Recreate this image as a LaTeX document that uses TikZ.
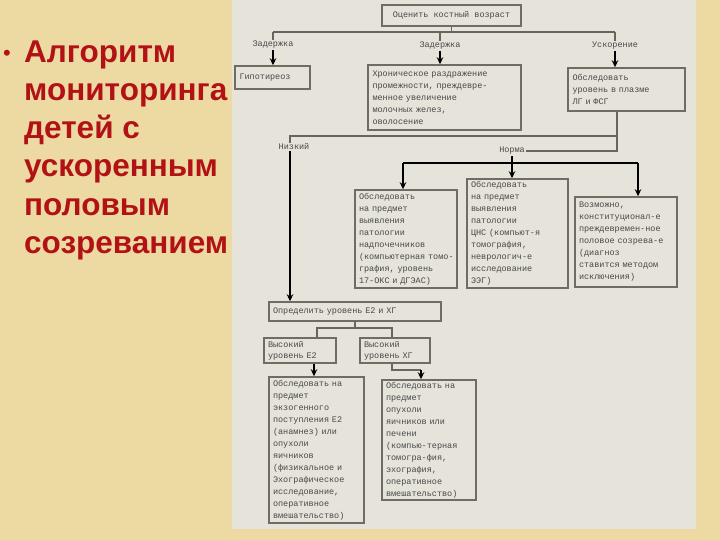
\documentclass[tikz,border=0pt]{standalone}
\usepackage{fontspec}
\usepackage{tikz}
\usetikzlibrary{arrows.meta}
\newfontfamily\titlefont{Liberation Sans}
\newfontfamily\flowmono{Liberation Mono}
\newcommand\boxfont{\flowmono\fontsize{8.5}{12}\selectfont}

\definecolor{papyrus}{RGB}{236,218,162}
\definecolor{panelgray}{RGB}{230,227,219}
\definecolor{boxgray}{RGB}{112,108,100}
\definecolor{linegray}{RGB}{105,100,92}
\definecolor{textgray}{RGB}{72,72,72}
\definecolor{titlered}{RGB}{178,18,22}

\tikzset{
  box/.style={draw=boxgray, line width=1.5pt, fill=panelgray, inner xsep=3pt, inner ysep=2pt,
    align=left, font=\boxfont, text=textgray},
  lbl/.style={font=\boxfont, text=textgray, inner sep=1pt},
  wire/.style={draw=linegray, line width=1.5pt},
  arr/.style={->, draw=black, line width=1.6pt},
  ttl/.style={anchor=base west, inner sep=0pt, text=titlered, font=\titlefont\bfseries\fontsize{31.5}{36}\selectfont}
}

\begin{document}
\begin{tikzpicture}[x=1pt, y=-1pt, >={Stealth[length=7pt,width=6.5pt]}]
  \useasboundingbox (0,0) rectangle (720,540);
  \fill[papyrus] (0,0) rectangle (720,540);
  \fill[panelgray] (232,0) rectangle (696,529);

  % title on the left
  \node[ttl, anchor=base, font=\titlefont\fontsize{22}{22}\selectfont] (dot) at (7,61) {•};
  \node[ttl] (t1) at (24,63) {Алгоритм};
  \node[ttl] (t2) at (24,101) {мониторинга};
  \node[ttl] (t3) at (24,139) {детей с};
  \node[ttl] (t4) at (24,177) {ускоренным};
  \node[ttl] (t5) at (24,215) {половым};
  \node[ttl] (t6) at (24,253) {созреванием};

  % first level
  \node[box, minimum width=139, minimum height=21] (age) at (451.5,15.5) {Оценить костный возраст};

  \node[lbl] (delay1) at (273,45) {Задержка};
  \node[lbl] (delay2) at (440,46) {Задержка};
  \node[lbl] (accel) at (615,46) {Ускорение};

  \node[box, minimum width=75, minimum height=23, text width=66pt] (hypo) at (272.5,77.5) {Гипотиреоз};
  \node[box, minimum width=153, minimum height=65, text width=144pt] (chronic) at (444.5,97.5)
    {Хроническое раздражение\\промежности, преждевре-\\менное увеличение\\молочных желез,\\оволосение};
  \node[box, minimum width=117, minimum height=43, text width=108pt] (lhfsh) at (626.5,89.5)
    {Обследовать\\уровень в плазме\\ЛГ и ФСГ};

  \coordinate (jl) at (273,32);
  \coordinate (jm) at (440,32);
  \coordinate (jr) at (615,32);
  \draw[wire] (age.south) -- (age.south |- jl);
  \draw[wire] (jl) -- (jr);
  \draw[wire] (jl) -- (delay1.north);
  \draw[wire] (jm) -- (delay2.north);
  \draw[wire] (jr) -- (accel.north);
  \draw[arr] (delay1.south) -- (delay1.south |- hypo.north);
  \draw[arr] (delay2.south) -- (delay2.south |- chronic.north);
  \draw[arr] (accel.south) -- (accel.south |- lhfsh.north);

  % second level
  \node[lbl] (low) at (294,147) {Низкий};
  \node[lbl] (norm) at (512,151) {Норма};

  \node[box, minimum width=102, minimum height=98, text width=94pt] (adrenal) at (406,239)
    {Обследовать\\на предмет\\выявления\\патологии\\надпочечников\\\mbox{(компьютерная томо-}\\графия, уровень\\17-ОКС и ДГЭАС)};
  \node[box, minimum width=101, minimum height=109, text width=93pt] (cns) at (517.5,233.5)
    {Обследовать\\на предмет\\выявления\\патологии\\ЦНС (компьют-я\\томография,\\неврологич-е\\исследование\\ЭЭГ)};
  \node[box, minimum width=102, minimum height=90, text width=94pt] (const) at (626,242)
    {Возможно,\\конституционал-е\\преждевремен-ное\\половое созрева-е\\(диагноз\\ставится методом\\исключения)};

  \coordinate (lo) at ([xshift=-9.5pt]lhfsh.south);
  \coordinate (lowbr) at (290,136);
  \coordinate (nl) at (403,163);
  \coordinate (nr) at (638,163);
  \draw[wire] (lo) -- (lo |- norm) -- (norm.east);
  \draw[wire] (lo |- lowbr) -- (lowbr) -- (lowbr |- low.north);
  \draw[black, line width=1.6pt] (nl) -- (nr);
  \draw[arr] (nl) -- (nl |- adrenal.north);
  \draw[arr] (nr) -- (nr |- const.north);
  \draw[arr] (norm.south) -- (norm.south |- cns.north);

  % third level
  \node[box, minimum width=172, minimum height=19, text width=164pt] (e2hcg) at (355,311.5)
    {Определить уровень Е2 и ХГ};
  \draw[arr] (lowbr |- low.south) -- (lowbr |- e2hcg.north);

  \node[box, minimum width=72, minimum height=25, inner ysep=1pt, text width=64pt,
    font=\flowmono\fontsize{8.5}{11}\selectfont] (highe2) at (300,350.5) {Высокий\\уровень Е2};
  \node[box, minimum width=70, minimum height=25, inner ysep=1pt, text width=62pt,
    font=\flowmono\fontsize{8.5}{11}\selectfont] (highhcg) at (395,350.5) {Высокий\\уровень ХГ};

  \coordinate (sl) at (317,328);
  \coordinate (sr) at (392,328);
  \draw[wire] (e2hcg.south) -- (e2hcg.south |- sl);
  \draw[wire] (sl |- highe2.north) -- (sl) -- (sr) -- (sr |- highhcg.north);

  \node[box, minimum width=95, minimum height=146, text width=87pt] (exo) at (316.5,450)
    {Обследовать на\\предмет\\экзогенного\\поступления Е2\\(анамнез) или\\опухоли\\яичников\\(физикальное и\\Эхографическое\\исследование,\\оперативное\\вмешательство)};
  \node[box, minimum width=94, minimum height=120, text width=86pt] (tumor) at (429,440)
    {Обследовать на\\предмет\\опухоли\\яичников или\\печени\\(компью-терная\\томогра-фия,\\эхография,\\оперативное\\вмешательство)};

  \coordinate (bend) at (421,370);
  \draw[arr] ([xshift=14pt]highe2.south) -- ([xshift=14pt]highe2.south |- exo.north);
  \draw[wire] ([xshift=-3pt]highhcg.south) |- (bend);
  \draw[arr] (bend) -- (bend |- tumor.north);
\end{tikzpicture}
\end{document}
